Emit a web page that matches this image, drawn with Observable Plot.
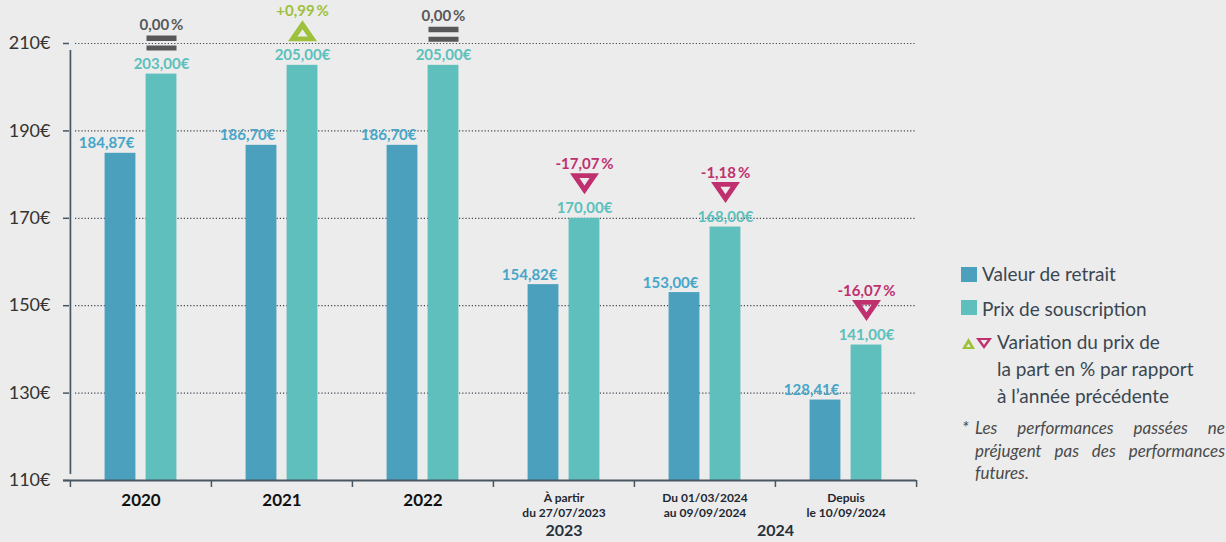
<!DOCTYPE html>
<html>
<head>
<meta charset="utf-8">
<script src="https://cdn.jsdelivr.net/npm/d3@7"></script>
<script src="https://cdn.jsdelivr.net/npm/@observablehq/plot@0.6"></script>
<style>
  body { margin: 0; background: #ececec; width: 1226px; height: 542px; overflow: hidden; position: relative; font-family: Lato, sans-serif; }
  #chart { position: absolute; left: 0; top: 0; }
  #legend { position: absolute; left: 940px; top: 250px; }
  #legend text { font-family: Lato, sans-serif; font-size: 19px; fill: #3a4650; }
  .star { position: absolute; left: 962px; top: 417px; font: italic 17px/22.5px Lato, sans-serif; color: #4a4a4a; }
  .note { position: absolute; left: 975px; top: 417px; width: 250px; font: italic 17px/22.5px Lato, sans-serif; color: #4a4a4a; text-align: justify; }
</style>
</head>
<body>
<div id="chart"></div>
<svg id="legend" width="286" height="170">
  <rect x="21" y="17" width="16" height="15" fill="#4aa0bd"></rect>
  <text x="42" y="31">Valeur de retrait</text>
  <rect x="21" y="50" width="16" height="15" fill="#5fbfbd"></rect>
  <text x="42" y="66">Prix de souscription</text>
  <path d="M28.5,88 L35,99 L22,99 Z M28.5,93.5 L26.3,97 L30.7,97 Z" fill="#9dc13a" fill-rule="evenodd"></path>
  <path d="M36,88 L52,88 L44,99 Z M40.5,90 L47.5,90 L44,95 Z" fill="#c0306f" fill-rule="evenodd"></path>
  <text x="57" y="99">Variation du prix de</text>
  <text x="57" y="126">la part en % par rapport</text>
  <text x="57" y="153">à l’année précédente</text>
</svg>
<div class="star">*</div>
<div class="note">Les performances passées ne préjugent pas des performances futures.</div>
<script>
// ---- data ----
const categories = ["2020", "2021", "2022", "2023a", "2024a", "2024b"];
const catLabels = ["2020", "2021", "2022", "À partir\ndu 27/07/2023", "Du 01/03/2024\nau 09/09/2024", "Depuis\nle 10/09/2024"];
const retrait = [184.87, 186.70, 186.70, 154.82, 153.00, 128.41];
const souscription = [203.00, 205.00, 205.00, 170.00, 168.00, 141.00];
const variation = [0.00, 0.99, 0.00, -17.07, -1.18, -16.07];
const yTicks = [110, 130, 150, 170, 190, 210];
const groupLabels = ["2023", "2024"];
const groupFrom = [3, 4];
const groupTo = [3, 5];

// ---- layout / style ----
const W = 930, H = 542, ML = 69, MR = 14, MT = 43, MB = 62;
const bw = (W - ML - MR) / categories.length;
const barW = 31, gap = 10;
const cBlue = "#4aa0bd", cTeal = "#5fbfbd";
const cBlueTxt = "#47a6c8", cTealTxt = "#5cc0bc";
const cGreen = "#9dc13a", cPink = "#c0306f", cGray = "#58585a";
const axisColor = "#4a5562";
const y0 = yTicks[0], yTop = yTicks[yTicks.length - 1];

const data = categories.map((c, i) => ({c, label: catLabels[i], r: retrait[i], s: souscription[i], v: variation[i]}));
const groups = groupLabels.map((g, i) => ({g, c: categories[groupFrom[i]], span: groupTo[i] - groupFrom[i]}));

const fmtEur = v => v.toFixed(2).replace(".", ",") + "€";
const fmtPct = v => (v > 0 ? "+" : "") + v.toFixed(2).replace(".", ",") + "\u2009%";

function triSymbol(dir) {
  const w = 29, h = 21, rin = 7.4, k = 0.35;
  return {
    draw(ctx) {
      const yb = dir * h / 2, yt = -dir * h / 2;
      const cy = yb - dir * rin;
      const p = [[0, yt], [w / 2, yb], [-w / 2, yb]];
      ctx.moveTo(p[0][0], p[0][1]); ctx.lineTo(p[1][0], p[1][1]); ctx.lineTo(p[2][0], p[2][1]); ctx.closePath();
      const q = p.map(([x, y]) => [x * k, cy + (y - cy) * k]);
      ctx.moveTo(q[0][0], q[0][1]); ctx.lineTo(q[2][0], q[2][1]); ctx.lineTo(q[1][0], q[1][1]); ctx.closePath();
    }
  };
}
const eqSymbol = {
  draw(ctx) {
    ctx.moveTo(-15, -7.5); ctx.lineTo(15, -7.5); ctx.lineTo(15, -2.2); ctx.lineTo(-15, -2.2); ctx.closePath();
    ctx.moveTo(-15, 2.3); ctx.lineTo(15, 2.3); ctx.lineTo(15, 7.5); ctx.lineTo(-15, 7.5); ctx.closePath();
  }
};

const tealDx = gap / 2 + barW / 2;
const zero = data.filter(d => d.v === 0);
const pos = data.filter(d => d.v > 0);
const neg = data.filter(d => d.v < 0);
const bigLabels = data.filter(d => !d.label.includes("\n"));
const smallLabels = data.filter(d => d.label.includes("\n"));

const chart = Plot.plot({
  width: W, height: H,
  marginLeft: ML, marginRight: MR, marginTop: MT, marginBottom: MB,
  style: {background: "transparent", fontFamily: "Lato, sans-serif", overflow: "visible"},
  x: {type: "band", domain: categories, padding: 0, axis: null},
  y: {domain: [y0, yTop], axis: null},
  marks: [
    Plot.gridY(yTicks.filter(d => d > y0), {stroke: "#3d4852", strokeOpacity: 1, strokeWidth: 1.2, strokeDasharray: "1.2,2", insetLeft: 6}),
    Plot.barY(data, {x: "c", y1: y0, y2: "r", fill: cBlue, insetLeft: bw / 2 - gap / 2 - barW, insetRight: bw / 2 + gap / 2}),
    Plot.barY(data, {x: "c", y1: y0, y2: "s", fill: cTeal, insetLeft: bw / 2 + gap / 2, insetRight: bw / 2 - gap / 2 - barW}),
    Plot.text(data, {x: "c", y: "r", text: d => fmtEur(d.r), dx: -gap / 2 - 1.5, dy: -5, textAnchor: "end", lineAnchor: "bottom", fill: cBlueTxt, fontSize: 15, fontWeight: "bold"}),
    Plot.text(data, {x: "c", y: "s", text: d => fmtEur(d.s), dx: tealDx, dy: -5, lineAnchor: "bottom", fill: cTealTxt, fontSize: 15, fontWeight: "bold"}),
    // variation markers
    Plot.dot(zero, {x: "c", y: "s", dx: tealDx, dy: -31, symbol: eqSymbol, fill: cGray, stroke: "none"}),
    Plot.dot(pos, {x: "c", y: "s", dx: tealDx, dy: -34.5, symbol: triSymbol(1), fill: cGreen, stroke: "none"}),
    Plot.dot(neg, {x: "c", y: "s", dx: tealDx, dy: -34.5, symbol: triSymbol(-1), fill: cPink, stroke: "none"}),
    Plot.text(zero, {x: "c", y: "s", text: d => fmtPct(d.v), dx: tealDx, dy: -44, lineAnchor: "bottom", fill: cGray, fontSize: 15, fontWeight: "bold"}),
    Plot.text(pos, {x: "c", y: "s", text: d => fmtPct(d.v), dx: tealDx, dy: -49, lineAnchor: "bottom", fill: cGreen, fontSize: 15, fontWeight: "bold"}),
    Plot.text(neg, {x: "c", y: "s", text: d => fmtPct(d.v), dx: tealDx, dy: -49, lineAnchor: "bottom", fill: cPink, fontSize: 15, fontWeight: "bold"}),
    // axes
    Plot.axisY(yTicks, {tickFormat: d => d + "€", tickSize: 6, tickPadding: 13, fontSize: 18, stroke: axisColor, strokeWidth: 1.5, fill: "#333"}),
    Plot.ruleX([categories[0]], {dx: -bw / 2, y1: y0, y2: yTop, insetTop: -6, insetBottom: -7, stroke: axisColor, strokeWidth: 1.7}),
    Plot.ruleY([y0], {stroke: axisColor, strokeWidth: 2, insetLeft: -6}),
    Plot.ruleX(categories, {dx: -bw / 2, y1: y0, y2: y0, insetBottom: -7, stroke: axisColor, strokeWidth: 1.5}),
    Plot.ruleX([categories[categories.length - 1]], {dx: bw / 2, y1: y0, y2: y0, insetBottom: -7, stroke: axisColor, strokeWidth: 1.5}),
    Plot.text(bigLabels, {x: "c", y: y0, text: "label", dy: 13, lineAnchor: "top", fill: "#111", fontSize: 17, fontWeight: "bold"}),
    Plot.text(smallLabels, {x: "c", y: y0, text: "label", dy: 12, lineAnchor: "top", lineHeight: 1.17, fill: "#1e2833", fontSize: 12, fontWeight: "bold"}),
    ...groups.map(g => Plot.text([g], {x: "c", y: y0, text: "g", dx: g.span * bw / 2, dy: 44, lineAnchor: "top", fill: "#26313c", fontSize: 16, fontWeight: "bold"}))
  ]
});
document.getElementById("chart").appendChild(chart);
</script>
</body>
</html>
